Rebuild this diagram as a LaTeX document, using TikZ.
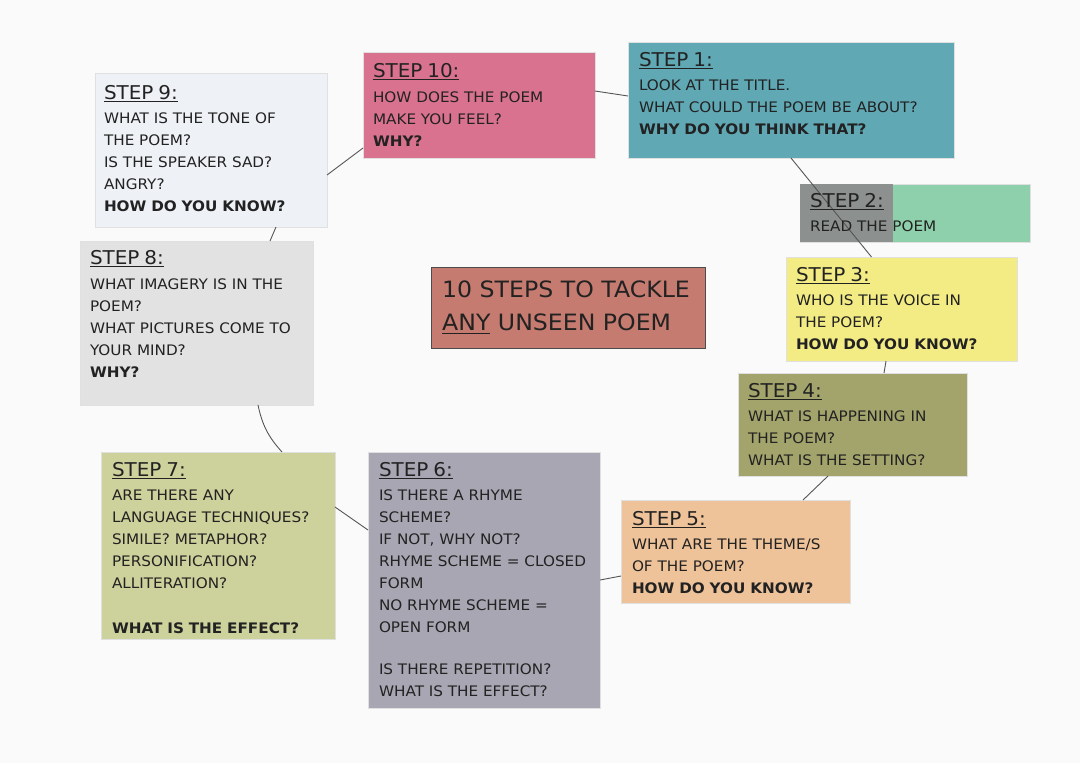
\documentclass[tikz,border=0pt]{standalone}
\usepackage{fontspec}
\setmainfont{DejaVu Sans}[FakeStretch=1.05]
\usetikzlibrary{calc}
\definecolor{bgc}{HTML}{FAFAFA}
\definecolor{cnine}{HTML}{EEF1F6}
\definecolor{cten}{HTML}{D9728F}
\definecolor{cone}{HTML}{5FA8B4}
\definecolor{ctwoa}{HTML}{8C908E}
\definecolor{ctwob}{HTML}{8FD0AC}
\definecolor{cthree}{HTML}{F3EC84}
\definecolor{cfour}{HTML}{A3A46B}
\definecolor{cfive}{HTML}{EFC39A}
\definecolor{csix}{HTML}{A8A6B2}
\definecolor{cseven}{HTML}{CDD19B}
\definecolor{ceight}{HTML}{E2E2E2}
\definecolor{ctitle}{HTML}{C57B6F}
\definecolor{ink}{HTML}{222222}
\definecolor{wire}{HTML}{555555}
\newcommand\myul[1]{\setbox0\hbox{#1}\rlap{\rule[-3pt]{\wd0}{1.3pt}}\box0}
\newcommand\hd[1]{{\fontsize{19}{22}\selectfont\myul{#1}}}
\tikzset{
  stepbox/.style={rectangle, anchor=north west, inner sep=0pt, outer sep=0pt, draw=black!12, line width=0.6pt},
  steptext/.style={anchor=north west, inner sep=0pt, outer sep=0pt, text width=400pt, align=left, text=ink,
    font=\fontsize{14.5}{22}\selectfont},
  wireline/.style={draw=wire, line width=0.9pt}
}
\begin{document}
\begin{tikzpicture}[x=1pt, y=-1pt]
\useasboundingbox (0,0) rectangle (1080,763);
\fill[bgc] (0,0) rectangle (1080,763);
% boxes
\node[stepbox, fill=cnine, minimum width=232pt, minimum height=154pt] (s9) at (95,73) {};
\node[stepbox, fill=cten, minimum width=232pt, minimum height=106pt] (s10) at (363,52) {};
\node[stepbox, fill=cone, minimum width=326pt, minimum height=116pt] (s1) at (628,42) {};
\node[stepbox, fill=ctwob, minimum width=230pt, minimum height=58pt] (s2) at (800,184) {};
\fill[ctwoa] (s2.north west) rectangle ([xshift=93pt]s2.south west);
\node[stepbox, fill=cthree, minimum width=231pt, minimum height=104pt] (s3) at (786,257) {};
\node[stepbox, fill=cfour, minimum width=229pt, minimum height=103pt] (s4) at (738,373) {};
\node[stepbox, fill=cfive, minimum width=229pt, minimum height=103pt] (s5) at (621,500) {};
\node[stepbox, fill=csix, minimum width=232pt, minimum height=256pt] (s6) at (368,452) {};
\node[stepbox, fill=cseven, minimum width=234pt, minimum height=187pt] (s7) at (101,452) {};
\node[stepbox, fill=ceight, minimum width=233pt, minimum height=164pt] (s8) at (80,241) {};
\node[stepbox, fill=ctitle, draw=black!70, line width=1pt, minimum width=274pt, minimum height=81pt] (title) at (431,267) {};
% connectors
\draw[wireline] ([yshift=14pt]s10.east) -- ([yshift=4pt]s1.west);
\draw[wireline] (s1.south) -- ([xshift=-30pt]s3.north);
\draw[wireline] ([xshift=-15.5pt]s3.south) -- ([xshift=31.5pt]s4.north);
\draw[wireline] ([xshift=-24.5pt]s4.south) -- ([xshift=67.5pt]s5.north);
\draw[wireline] ([yshift=-24.5pt]s5.west) -- (s6.east);
\draw[wireline] ([yshift=50pt]s6.west) -- ([yshift=38.5pt]s7.east);
\draw[wireline] ([xshift=64pt]s7.north) to[bend left=15] ([xshift=61.5pt]s8.south);
\draw[wireline] ([xshift=73.5pt]s8.north) -- ([xshift=65pt]s9.south);
\draw[wireline] ([yshift=-25pt]s9.east) -- ([yshift=-43pt]s10.west);
% texts
\node[steptext] (t9) at ([xshift=9pt,yshift=-12pt]s9.north west) {\hd{STEP 9:}\\[2pt]
WHAT IS THE TONE OF\\ THE POEM?\\ IS THE SPEAKER SAD?\\ ANGRY?\\ \textbf{HOW DO YOU KNOW?}};
\node[steptext] (t10) at ([xshift=10pt,yshift=-11pt]s10.north west) {\hd{STEP 10:}\\[3pt]
HOW DOES THE POEM\\ MAKE YOU FEEL?\\ \textbf{WHY?}};
\node[steptext] (t1) at ([xshift=11pt,yshift=-10pt]s1.north west) {\hd{STEP 1:}\\[2pt]
LOOK AT THE TITLE.\\ WHAT COULD THE POEM BE ABOUT?\\ \textbf{WHY DO YOU THINK THAT?}};
\node[steptext] (t2) at ([xshift=10pt,yshift=-9pt]s2.north west) {\hd{STEP 2:}\\[2pt]
READ THE POEM};
\node[steptext] (t3) at ([xshift=10pt,yshift=-10pt]s3.north west) {\hd{STEP 3:}\\[2pt]
WHO IS THE VOICE IN\\ THE POEM?\\ \textbf{HOW DO YOU KNOW?}};
\node[steptext] (t4) at ([xshift=10pt,yshift=-10pt]s4.north west) {\hd{STEP 4:}\\[2pt]
WHAT IS HAPPENING IN\\ THE POEM?\\ WHAT IS THE SETTING?};
\node[steptext] (t5) at ([xshift=11pt,yshift=-11pt]s5.north west) {\hd{STEP 5:}\\[2pt]
WHAT ARE THE THEME/S\\ OF THE POEM?\\ \textbf{HOW DO YOU KNOW?}};
\node[steptext] (t6) at ([xshift=11pt,yshift=-10pt]s6.north west) {\hd{STEP 6:}\\[2pt]
IS THERE A RHYME\\ SCHEME?\\ IF NOT, WHY NOT?\\ RHYME SCHEME = CLOSED\\ FORM\\ NO RHYME SCHEME =\\ OPEN FORM\\[20pt]
IS THERE REPETITION?\\ WHAT IS THE EFFECT?};
\node[steptext] (t7) at ([xshift=11pt,yshift=-10pt]s7.north west) {\hd{STEP 7:}\\[2pt]
ARE THERE ANY\\ LANGUAGE TECHNIQUES?\\ SIMILE? METAPHOR?\\ PERSONIFICATION?\\ ALLITERATION?\\[23pt]
\textbf{WHAT IS THE EFFECT?}};
\node[steptext] (t8) at ([xshift=10pt,yshift=-9pt]s8.north west) {\hd{STEP 8:}\\[3pt]
WHAT IMAGERY IS IN THE\\ POEM?\\ WHAT PICTURES COME TO\\ YOUR MIND?\\ \textbf{WHY?}};
\node[anchor=west, inner sep=0pt, align=left, text=ink, font=\fontsize{22.5}{33}\selectfont] (tt) at ([xshift=11pt]title.west)
  {10 STEPS TO TACKLE\\ {\setbox0\hbox{ANY}\rlap{\rule[-4pt]{\wd0}{1.4pt}}\box0} UNSEEN POEM};
\end{tikzpicture}
\end{document}
